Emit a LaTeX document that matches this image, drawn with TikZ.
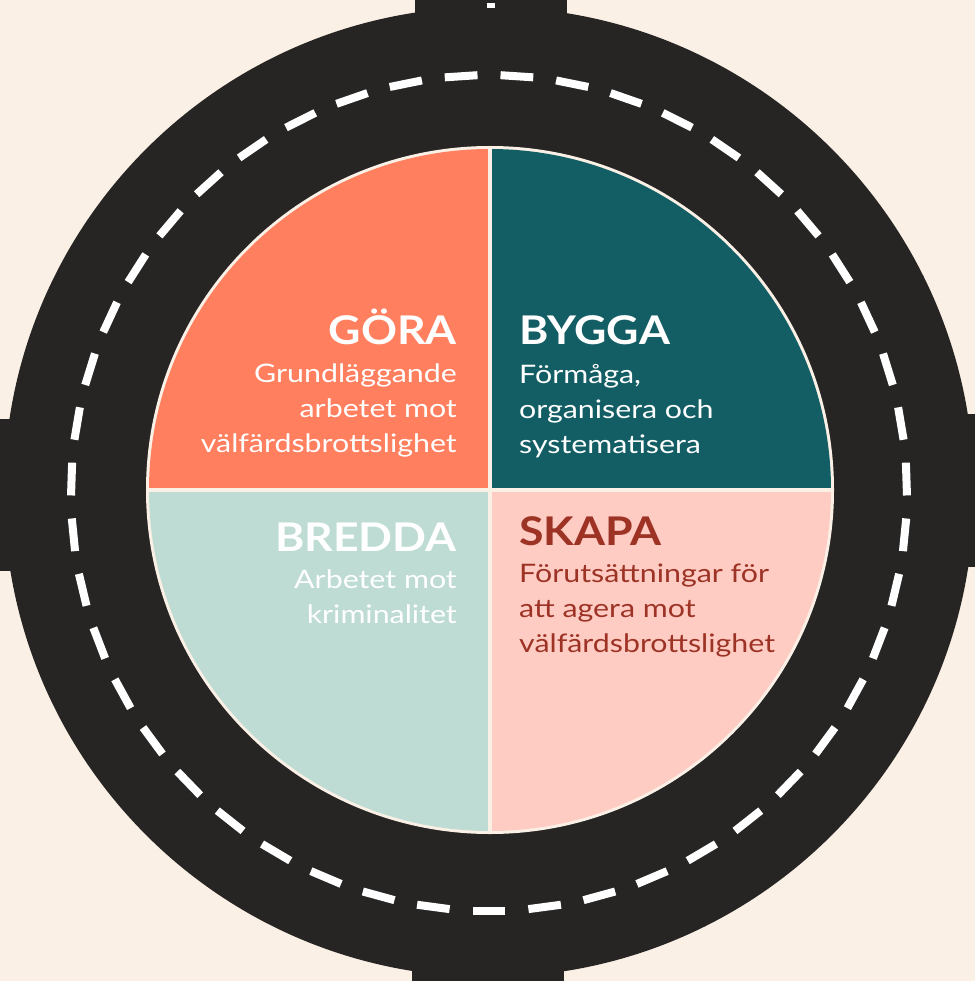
\documentclass[tikz,border=0pt]{standalone}
\usepackage{fontspec}
\setmainfont{Lato}
\newfontfamily\titlefont{Lato}[FakeStretch=1.13]
\newfontfamily\bodyfont{Lato}[FakeStretch=1.19]
\definecolor{paper}{HTML}{FAF0E6}
\definecolor{road}{HTML}{262524}
\definecolor{gora}{HTML}{FF7F5E}
\definecolor{bygga}{HTML}{135E64}
\definecolor{bredda}{HTML}{BEDCD4}
\definecolor{skapa}{HTML}{FFCCC4}
\definecolor{skapatext}{HTML}{9C3325}
\tikzset{
  title/.style={font=\titlefont\fontsize{39.5}{39.5}\selectfont\bfseries, inner sep=0pt},
  body/.style={font=\bodyfont\fontsize{25.5}{35}\selectfont, inner sep=0pt},
}
\begin{document}
\begin{tikzpicture}[x=1pt,y=-1pt]
    \useasboundingbox (0,0) rectangle (975,981);
    \fill[paper] (0,0) rectangle (975,981);
    % the road
    \fill[road] (489,492) circle (485pt);
    \fill[road] (415,0) rectangle (567,60);
    \fill[road] (412,920) rectangle (564,981);
    \fill[road] (0,419) rectangle (60,571);
    \fill[road] (915,414) rectangle (975,567);
    \fill[white] (487,3) rectangle (495,8);
    \foreach \i in {0,...,46}{
        \pgfmathsetmacro\a{87.75+\i*7.659574}
        \pgfmathsetmacro\b{92.25+\i*7.659574}
        \draw[white, line width=8pt] ([shift={(489,493)}]\a:418) -- ([shift={(489,493)}]\b:418);
    }
    % the four fields
    \fill[paper] (490,490) circle (344pt);
    \begin{scope}
        \clip (490,490) circle (341pt);
        \fill[gora] (488,488) rectangle (140,140);
        \fill[bygga] (492,488) rectangle (840,140);
        \fill[bredda] (488,492) rectangle (140,840);
        \fill[skapa] (492,492) rectangle (840,840);
    \end{scope}
    % texts
    \node[title, text=white, anchor=base east] (gora) at (457,344) {GÖRA};
    \node[body, text=white, align=right, anchor=north east] (goratext) at (457,364) {Grundläggande\\arbetet mot\\välfärdsbrottslighet};
    \node[title, text=white, anchor=base west] (bygga) at (519,344) {BYGGA};
    \node[body, text=white, align=left, anchor=north west] (byggatext) at (519,364) {Förmåga,\\organisera och\\systematisera};
    \node[title, text=white, anchor=base east] (bredda) at (457,551) {BREDDA};
    \node[body, text=white, align=right, anchor=north east] (breddatext) at (457,570) {Arbetet mot\\kriminalitet};
    \node[title, text=skapatext, anchor=base west] (skapa) at (519,545) {SKAPA};
    \node[body, text=skapatext, align=left, anchor=north west] (skapatext) at (519,564) {Förutsättningar för\\att agera mot\\välfärdsbrottslighet};
\end{tikzpicture}
\end{document}
